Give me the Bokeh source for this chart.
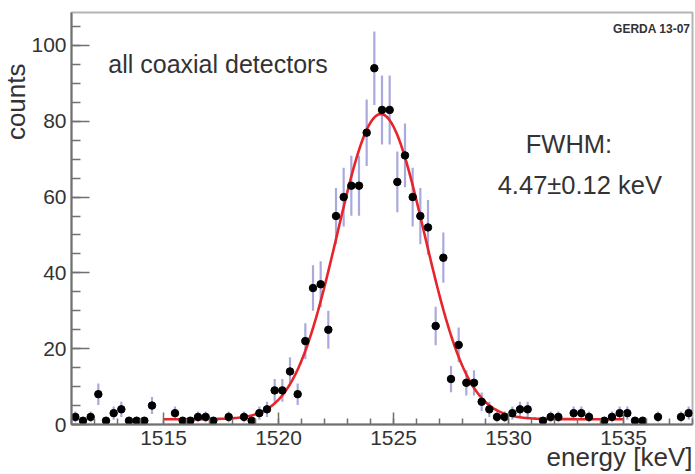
import numpy as np
from bokeh.plotting import figure
from bokeh.models import Label, FixedTicker, Range1d, ColumnDataSource, Title
from bokeh.embed import file_html
from bokeh.resources import INLINE

# ---- data ----
bin_low = 1511.0          # keV, lower edge of first bin
bin_high = 1538.0         # keV, upper edge of last bin
counts = [2, 1, 2, 8, 1, 3, 4, 1, 1, 1,
          5, 0, 0, 3, 1, 1, 2, 2, 1, 0,
          2, 0, 2, 1, 3, 4, 9, 9, 14, 8,
          22, 36, 37, 25, 55, 60, 63, 63, 77, 94,
          83, 83, 64, 71, 60, 55, 52, 26, 44, 12,
          21, 11, 11, 6, 4, 2, 2, 3, 4, 4,
          0, 1, 2, 2, 0, 3, 3, 2, 0, 1,
          2, 3, 3, 1, 1, 0, 2, 0, 0, 2,
          3]

# fitted Gaussian + flat background (FWHM from the figure's annotation)
fit_amplitude = 80.5
fit_mean = 1524.45
fit_fwhm = 4.47
fit_background = 1.4
fit_low = 1515.0
fit_high = 1535.0

x_major_ticks = [1515, 1520, 1525, 1530, 1535]
x_minor_ticks = list(range(1511, 1539))
y_major_ticks = [0, 20, 40, 60, 80, 100]
y_minor_ticks = list(range(0, 110, 5))

# ---- derived ----
n_bins = len(counts)
edges = np.linspace(bin_low, bin_high, n_bins + 1)
centers = 0.5 * (edges[:-1] + edges[1:])
cnt = np.array(counts, dtype=float)
mask = cnt > 0
err = np.sqrt(cnt)

src = ColumnDataSource(dict(x=centers[mask], y=cnt[mask],
                            lo=(cnt - err)[mask], hi=(cnt + err)[mask]))

sigma = fit_fwhm / (2.0 * np.sqrt(2.0 * np.log(2.0)))
fx = np.linspace(fit_low, fit_high, 400)
fy = fit_background + fit_amplitude * np.exp(-0.5 * ((fx - fit_mean) / sigma) ** 2)

TXT = "#333333"
FONT = "Liberation Sans"

p = figure(width=695, height=474, output_backend="svg", toolbar_location=None,
           x_range=Range1d(bin_low, bin_high), y_range=Range1d(0, 108.7),
           min_border_left=70, min_border_right=3, min_border_top=12,
           min_border_bottom=50)
p.title.visible = False
p.background_fill_color = "white"
p.border_fill_color = "white"
p.outline_line_color = "#b4b4b4"
p.outline_line_width = 2
p.xgrid.visible = False
p.ygrid.visible = False

for ax in (p.xaxis[0], p.yaxis[0]):
    ax.axis_line_color = "#707070"
    ax.axis_line_width = 2
    ax.major_tick_line_color = "#707070"
    ax.minor_tick_line_color = "#707070"
    ax.major_tick_line_width = 1.5
    ax.minor_tick_line_width = 1.5
    ax.major_tick_out = 0
    ax.minor_tick_out = 0
    ax.major_label_text_font = FONT
    ax.major_label_text_font_size = "21px"
    ax.major_label_text_color = TXT

p.xaxis.ticker = FixedTicker(ticks=x_major_ticks, minor_ticks=x_minor_ticks)
p.yaxis.ticker = FixedTicker(ticks=y_major_ticks, minor_ticks=y_minor_ticks)
p.xaxis.major_tick_in = 12
p.xaxis.minor_tick_in = 6
p.yaxis.major_tick_in = 18
p.yaxis.minor_tick_in = 9
p.xaxis.major_label_standoff = 6
p.yaxis.major_label_standoff = 5

# axis titles as side-panel titles, right/top aligned like ROOT
p.add_layout(Title(text="energy [keV]", align="right", standoff=-15,
                   text_font=FONT, text_font_size="26px",
                   text_font_style="normal", text_color=TXT), "below")
p.add_layout(Title(text="counts", align="right", standoff=-4, offset=51,
                   text_font=FONT, text_font_size="26px",
                   text_font_style="normal", text_color=TXT), "left")

# error bars, points, fit
p.segment(x0="x", y0="lo", x1="x", y1="hi", source=src,
          line_color="#9a9ad8", line_width=2.2, line_alpha=0.85)
p.line(fx, fy, line_color="#e8232a", line_width=2.6)
p.scatter(x="x", y="y", source=src, size=7.5, marker="circle",
          fill_color="black", line_color="black")

# texts
p.add_layout(Label(x=1512.6, y=95.2, text="all coaxial detectors",
                   text_font=FONT, text_font_size="25px", text_color=TXT,
                   text_align="left", text_baseline="alphabetic"))
p.add_layout(Label(x=1530.75, y=74.06, text="FWHM:",
                   text_font=FONT, text_font_size="25.5px", text_color=TXT,
                   text_align="left", text_baseline="alphabetic"))
p.add_layout(Label(x=1529.53, y=63.25, text="4.47\u00b10.12 keV",
                   text_font=FONT, text_font_size="25.5px", text_color=TXT,
                   text_align="left", text_baseline="alphabetic"))
p.add_layout(Label(x=1537.91, y=104.4, text="GERDA 13-07",
                   text_font=FONT, text_font_size="12px", text_font_style="bold",
                   text_color=TXT, text_align="right", text_baseline="alphabetic"))

open("out.html", "w").write(file_html(p, INLINE))
